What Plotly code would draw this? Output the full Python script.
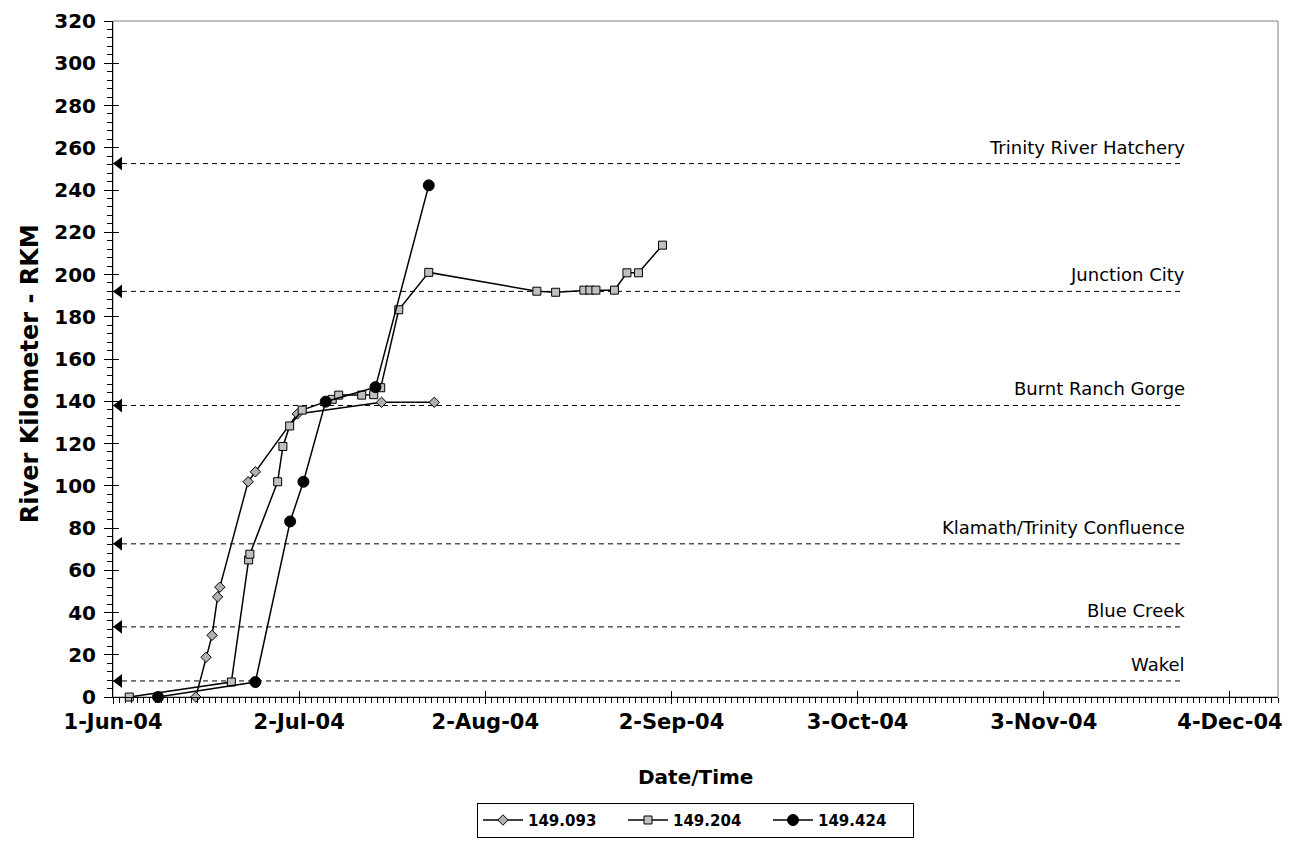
import plotly.graph_objects as go

# ---------------- data ----------------
tag_ids = ["149.093", "149.204", "149.424"]

t093_dates = ["2004-06-14 19:00", "2004-06-16 12:00", "2004-06-17 12:00", "2004-06-18 10:00",
              "2004-06-18 19:00", "2004-06-23 12:00", "2004-06-24 17:00", "2004-07-01 17:00",
              "2004-07-15 17:00", "2004-07-24 12:00"]
t093_rkm = [0, 18.8, 29.2, 47.4, 52.0, 101.9, 106.6, 134.0, 139.5, 139.5]

t204_dates = ["2004-06-03 17:00", "2004-06-20 17:00", "2004-06-23 14:00", "2004-06-23 19:00",
              "2004-06-28 10:00", "2004-06-29 07:00", "2004-06-30 10:00", "2004-07-02 12:00",
              "2004-07-07 12:00", "2004-07-08 14:00", "2004-07-12 10:00", "2004-07-14 10:00",
              "2004-07-15 14:00", "2004-07-18 14:00", "2004-07-23 14:00", "2004-08-10 14:00",
              "2004-08-13 17:00", "2004-08-18 10:00", "2004-08-19 10:00", "2004-08-20 10:00",
              "2004-08-23 12:00", "2004-08-25 14:00", "2004-08-27 12:00", "2004-08-31 12:00"]
t204_rkm = [0, 7.1, 64.9, 67.6, 101.9, 118.6, 128.3, 135.8, 140.9, 142.9, 142.9, 143.1,
            146.4, 183.3, 201.0, 192.1, 191.6, 192.6, 192.6, 192.6, 192.6, 200.8, 200.8, 213.9]

t424_dates = ["2004-06-08 12:00", "2004-06-24 17:00", "2004-06-30 12:00", "2004-07-02 17:00",
              "2004-07-06 10:00", "2004-07-14 17:00", "2004-07-23 14:00"]
t424_rkm = [0, 7.1, 83.1, 101.9, 139.8, 146.7, 242.2]

site_names = ["Wakel", "Blue Creek", "Klamath/Trinity Confluence", "Burnt Ranch Gorge",
              "Junction City", "Trinity River Hatchery"]
site_rkm = [7.6, 33.2, 72.5, 138.0, 192.0, 252.5]

x_tick_vals = ["2004-06-01", "2004-07-02", "2004-08-02", "2004-09-02", "2004-10-03",
               "2004-11-03", "2004-12-04"]
x_tick_text = ["1-Jun-04", "2-Jul-04", "2-Aug-04", "2-Sep-04", "3-Oct-04", "3-Nov-04", "4-Dec-04"]
y_tick_vals = list(range(0, 321, 20))

# ---------------- layout constants ----------------
X_START = "2004-06-01"
X_END = "2004-12-12"
REF_END = "2004-11-25 19:00"
ARROW_X = "2004-06-02 00:00"
FONT = "DejaVu Sans"
DAY_MS = 86400000

fig = go.Figure()

# reference (site) lines
for name, v in zip(site_names, site_rkm):
    fig.add_trace(go.Scatter(x=[X_START, REF_END], y=[v, v], mode="lines",
                             line=dict(color="black", width=1, dash="5px,4px"),
                             showlegend=False, hoverinfo="skip"))
    fig.add_annotation(x=REF_END, y=v, text=name, showarrow=False, xanchor="right",
                       yanchor="bottom", xshift=6, yshift=4,
                       font=dict(family=FONT, size=18, color="black"))
fig.add_trace(go.Scatter(x=[ARROW_X] * len(site_rkm), y=site_rkm, mode="markers",
                         marker=dict(symbol="triangle-left", size=12, color="black"),
                         showlegend=False, hoverinfo="skip", cliponaxis=False))

series = [
    (t093_dates, t093_rkm, dict(symbol="diamond", size=8, color="#b0b0b0",
                                line=dict(color="black", width=1))),
    (t204_dates, t204_rkm, dict(symbol="square", size=8, color="#c0c0c0",
                                line=dict(color="black", width=1))),
    (t424_dates, t424_rkm, dict(symbol="circle", size=11, color="black",
                                line=dict(color="black", width=1))),
]
for tag, (xs, ys, mk) in zip(tag_ids, series):
    fig.add_trace(go.Scatter(x=xs, y=ys, name=tag, mode="lines+markers",
                             line=dict(color="black", width=1.5), marker=mk,
                             cliponaxis=False))

xtickfont = dict(family=FONT, size=21, color="black", weight="bold")
ytickfont = dict(family=FONT, size=20, color="black", weight="bold")

fig.update_layout(
    width=1291, height=843,
    margin=dict(l=113, r=9, t=21, b=146),
    paper_bgcolor="white", plot_bgcolor="white",
    font=dict(family=FONT, color="black"),
    xaxis=dict(type="date", range=[X_START, X_END], showgrid=False, zeroline=False,
               showline=True, linecolor="black", linewidth=1,
               tickmode="array", tickvals=x_tick_vals, ticktext=x_tick_text,
               ticks="outside", ticklen=6, tickcolor="black", tickfont=xtickfont,
               minor=dict(tickmode="linear", tick0=X_START, dtick=DAY_MS, ticks="outside",
                          ticklen=5, tickcolor="black")),
    yaxis=dict(range=[0, 320], showgrid=False, zeroline=False, showline=True,
               linecolor="black", linewidth=1, tickmode="array", tickvals=y_tick_vals,
               ticks="outside", ticklen=8, tickcolor="black", tickfont=ytickfont,
               ticklabelstandoff=4,
               minor=dict(tickmode="linear", tick0=0, dtick=4, ticks="outside",
                          ticklen=5, tickcolor="black")),
    xaxis2=dict(type="date", range=[X_START, X_END], overlaying="x", matches="x",
                showgrid=False, zeroline=False, showline=False, tickmode="array",
                tickvals=x_tick_vals, ticks="inside", ticklen=6, tickcolor="black",
                showticklabels=False, anchor="y"),
    yaxis2=dict(range=[0, 320], overlaying="y", matches="y", showgrid=False,
                zeroline=False, showline=False, tickmode="array", tickvals=y_tick_vals,
                ticks="inside", ticklen=6, tickcolor="black", showticklabels=False,
                anchor="x", side="left"),
    legend=dict(orientation="h", x=0.5, xanchor="center", xref="paper",
                y=0.027, yanchor="middle", yref="container",
                bordercolor="black", borderwidth=1, bgcolor="white",
                font=dict(family=FONT, size=15, color="black", weight="bold"),
                itemwidth=40, entrywidth=90, tracegroupgap=0),
    showlegend=True,
)
# invisible trace to activate the overlay axes (crossing major ticks)
fig.add_trace(go.Scatter(x=[X_START], y=[0], xaxis="x2", yaxis="y2", mode="markers",
                         marker=dict(opacity=0), showlegend=False, hoverinfo="skip"))

# plot-area border (gray)
fig.add_shape(type="rect", xref="paper", yref="paper", x0=0, y0=0, x1=1, y1=1,
              line=dict(color="#808080", width=1), layer="below")

fig.add_annotation(text="<b>Date/Time</b>", xref="paper", yref="paper", x=0.5, y=-0.118,
                   xanchor="center", yanchor="middle", showarrow=False,
                   font=dict(family=FONT, size=20, color="black"))
fig.add_annotation(text="<b>River Kilometer - RKM</b>", xref="paper", yref="paper",
                   x=-0.071, y=0.478, xanchor="center", yanchor="middle", textangle=-90,
                   showarrow=False, font=dict(family=FONT, size=24, color="black"))

fig.write_html("out.html", config={"displayModeBar": False},
               post_script="document.body.style.margin='0';")
